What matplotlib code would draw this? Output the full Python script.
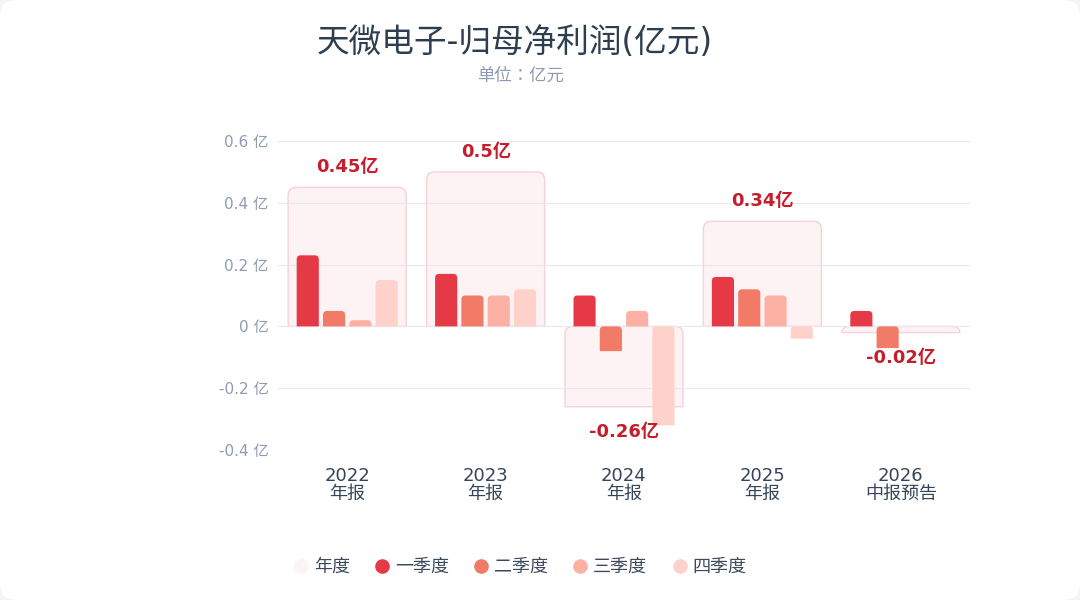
import numpy as np
import matplotlib
matplotlib.use('Agg')
import matplotlib.pyplot as plt
from matplotlib.path import Path
from matplotlib.patches import PathPatch, FancyBboxPatch
from matplotlib.lines import Line2D

plt.rcParams['font.family'] = ['DejaVu Sans', 'Noto Sans CJK SC']

# 数据
years = ['2022', '2023', '2024', '2025', '2026']
periods = ['年报', '年报', '年报', '年报', '中报预告']
annual = [0.45, 0.5, -0.26, 0.34, -0.02]
q1 = [0.23, 0.17, 0.10, 0.16, 0.05]
q2 = [0.05, 0.10, -0.08, 0.12, -0.07]
q3 = [0.02, 0.10, 0.05, 0.10, np.nan]
q4 = [0.15, 0.12, -0.32, -0.04, np.nan]
yticks = [-0.4, -0.2, 0, 0.2, 0.4, 0.6]

names = ['一季度', '二季度', '三季度', '四季度']
colors = ['#e63946', '#f17b67', '#fdb1a4', '#fed2ca']
box_face = '#fdf3f4'
box_edge = '#f5d3d8'

fig = plt.figure(figsize=(10.8, 6), dpi=100)
fig.patch.set_facecolor('#f3f4f6')
card = FancyBboxPatch((0, 0), 1, 1, boxstyle='round,pad=0,rounding_size=0.015',
                      transform=fig.transFigure, facecolor='white', edgecolor='none',
                      mutation_aspect=1.8, zorder=-5)
fig.patches.append(card)

ax = fig.add_axes([278/1080, 1-450/600, 692/1080, 309/600])
ax.set_zorder(1)
ax.set_facecolor('none')
ax.set_xlim(-0.5, 4.5)
ax.set_ylim(-0.4, 0.6)


def top_round_bar(ax, xc, w, val, r, **kw):
    '顶部圆角的柱子(负值时圆角在0处)'
    x0, x1 = xc - w/2, xc + w/2
    lo, hi = min(0, val), max(0, val)
    p0 = ax.transData.transform((0, 0))
    p1 = ax.transData.transform((1, 1))
    sx, sy = p1[0]-p0[0], p1[1]-p0[1]
    rx = min(r/sx, w/2)
    ry = min(r/sy, hi-lo)
    verts = [(x0, lo), (x1, lo), (x1, hi-ry), (x1, hi), (x1-rx, hi),
             (x0+rx, hi), (x0, hi), (x0, hi-ry), (x0, lo)]
    codes = [Path.MOVETO, Path.LINETO, Path.LINETO, Path.CURVE3, Path.CURVE3,
             Path.LINETO, Path.CURVE3, Path.CURVE3, Path.CLOSEPOLY]
    ax.add_patch(PathPatch(Path(verts, codes), **kw))


x = np.arange(len(years))
# 年度背景框
for i, v in enumerate(annual):
    top_round_bar(ax, x[i], 0.853, v, 8, facecolor=box_face, edgecolor=box_edge,
                  linewidth=1, zorder=0.3)
    off = 20 if v >= 0 else -25
    ax.annotate(f'{v:g}亿', (x[i], v), xytext=(0, off), textcoords='offset pixels',
                ha='center', va='center', fontsize=13, fontweight='bold', color='#c41d2b')

# 季度柱
quarters = [q1, q2, q3, q4]
for k, q in enumerate(quarters):
    for i, v in enumerate(q):
        if np.isnan(v):
            continue
        top_round_bar(ax, x[i] + (k-1.5)*0.19, 0.16, v, 4,
                      facecolor=colors[k], edgecolor='none', zorder=2)

ax.set_yticks(yticks)
ax.set_yticklabels([f'{t:g} 亿' for t in yticks], fontsize=11, color='#8e9bb1')
ax.set_xticks(x)
ax.set_xticklabels([f'{y}\n{p}' for y, p in zip(years, periods)], fontsize=13, color='#34445a')
for lab in ax.get_xticklabels():
    lab.set_linespacing(1.0)
ax.tick_params(axis='both', length=0)
ax.tick_params(axis='y', pad=7)
ax.tick_params(axis='x', pad=12.5)
ax.set_axisbelow(True)
ax.yaxis.grid(True, color='#e8e8ef', linewidth=0.8)
for s in ax.spines.values():
    s.set_visible(False)

fig.text(515/1080, 1-42/600, '天微电子-归母净利润(亿元)', fontsize=23.5, color='#2c3e50',
         ha='center', va='center')
fig.text(520/1080, 1-76/600, '单位：亿元', fontsize=12.5, color='#8e9bb1',
         ha='center', va='center', family=['Noto Sans CJK JP', 'DejaVu Sans'])

handles = [Line2D([], [], marker='o', linestyle='none', markersize=9.5,
                  markerfacecolor=box_face, markeredgecolor=box_face)]
for c in colors:
    handles.append(Line2D([], [], marker='o', linestyle='none', markersize=9.5,
                          markerfacecolor=c, markeredgecolor=c))
fig.legend(handles, ['年度'] + names, loc='center', bbox_to_anchor=(520/1080, 1-567/600),
           ncol=5, frameon=False, fontsize=13, handlelength=0.8, handletextpad=0.3,
           columnspacing=1.4, labelcolor='#3d4a5c')

fig.savefig('out.png', dpi=100, facecolor=fig.get_facecolor())
